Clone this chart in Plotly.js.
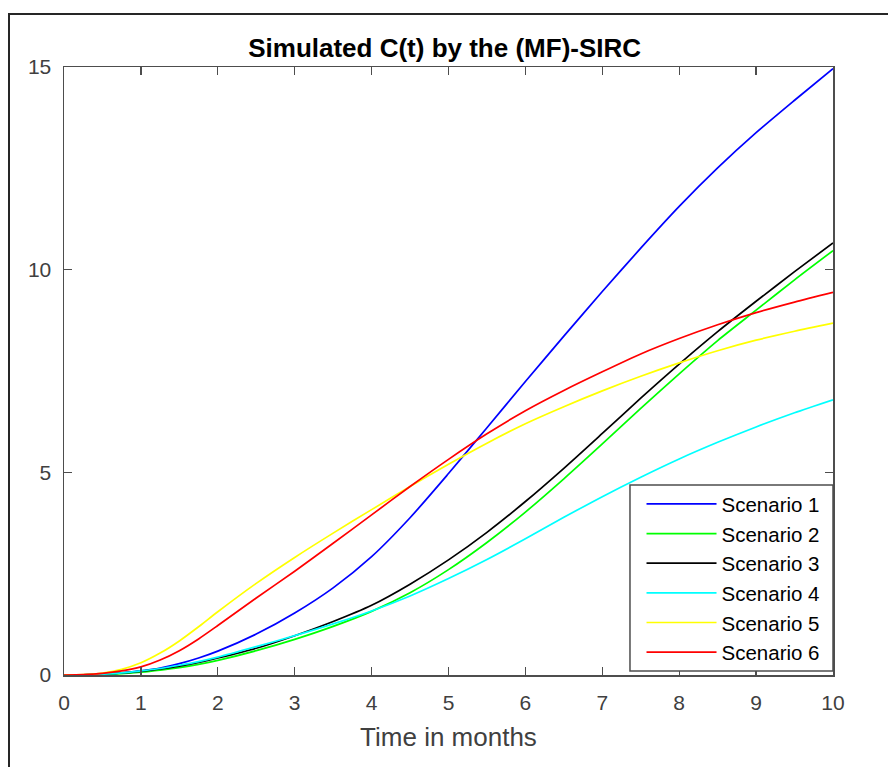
<!DOCTYPE html>
<html>
<head>
<meta charset="utf-8">
<script src="https://cdn.plot.ly/plotly-3.0.1.min.js"></script>
<style>
  html, body { margin: 0; padding: 0; background: #fff; }
  #chart { width: 888px; height: 767px; position: relative; }
  #frame {
    position: absolute; left: 8px; top: 13px; width: 900px; height: 800px;
    border-left: 2px solid #262626; border-top: 2px solid #262626;
    pointer-events: none; box-sizing: border-box;
  }
</style>
</head>
<body>
<div id="chart"></div>
<div id="frame"></div>
<script>
// Time axis (months): finer steps during the slow start
const months = [0, 0.25, 0.5, 0.75, 1, 1.25, 1.5, 1.75, 2, 2.5, 3, 3.5, 4, 4.5, 5, 5.5, 6, 6.5, 7, 7.5, 8, 8.5, 9, 9.5, 10];

// Cumulative C(t) for each scenario
const scenario1 = [0, 0.005, 0.02, 0.05, 0.10, 0.17, 0.28, 0.42, 0.59, 1.01, 1.53, 2.15, 2.92, 3.88, 4.97, 6.10, 7.24, 8.36, 9.46, 10.53, 11.56, 12.51, 13.38, 14.18, 14.96];
const scenario2 = [0, 0.003, 0.01, 0.035, 0.07, 0.12, 0.18, 0.26, 0.36, 0.60, 0.88, 1.20, 1.57, 2.03, 2.60, 3.27, 4.02, 4.84, 5.70, 6.58, 7.43, 8.25, 9.00, 9.75, 10.47];
const scenario3 = [0, 0.005, 0.02, 0.05, 0.09, 0.15, 0.22, 0.31, 0.42, 0.66, 0.97, 1.32, 1.72, 2.24, 2.84, 3.52, 4.28, 5.10, 5.96, 6.83, 7.67, 8.47, 9.22, 9.95, 10.66];
const scenario4 = [0, 0.005, 0.02, 0.05, 0.10, 0.16, 0.24, 0.33, 0.44, 0.70, 0.97, 1.26, 1.58, 1.95, 2.38, 2.85, 3.36, 3.89, 4.40, 4.88, 5.33, 5.74, 6.12, 6.47, 6.79];
const scenario5 = [0, 0.01, 0.05, 0.14, 0.30, 0.54, 0.84, 1.19, 1.56, 2.26, 2.90, 3.50, 4.08, 4.65, 5.20, 5.72, 6.20, 6.62, 7.01, 7.37, 7.70, 8.00, 8.26, 8.48, 8.68];
const scenario6 = [0, 0.01, 0.04, 0.10, 0.20, 0.37, 0.60, 0.89, 1.22, 1.90, 2.56, 3.25, 3.95, 4.65, 5.32, 5.95, 6.52, 7.02, 7.48, 7.92, 8.30, 8.64, 8.94, 9.20, 9.44];

const seriesNames = ['Scenario 1', 'Scenario 2', 'Scenario 3', 'Scenario 4', 'Scenario 5', 'Scenario 6'];
const seriesValues = [scenario1, scenario2, scenario3, scenario4, scenario5, scenario6];
const seriesColors = ['#0000ff', '#00ff00', '#000000', '#00ffff', '#ffff00', '#ff0000'];

const xTicks = [0, 1, 2, 3, 4, 5, 6, 7, 8, 9, 10];
const yTicks = [0, 5, 10, 15];

const traces = seriesValues.map((vals, i) => ({
  x: months,
  y: vals,
  name: seriesNames[i],
  type: 'scatter',
  mode: 'lines',
  line: { color: seriesColors[i], width: 1.7, shape: 'spline', smoothing: 0.7 }
}));

const FONT = 'Liberation Sans, Arial, sans-serif';

const axisCommon = {
  showgrid: false,
  zeroline: false,
  showline: true,
  linecolor: '#4d4d4d',
  linewidth: 1.5,
  mirror: 'ticks',
  ticks: 'inside',
  ticklen: 8,
  tickwidth: 1.2,
  tickcolor: '#4d4d4d',
  tickfont: { family: FONT, size: 21, color: '#404040' }
};

const layout = {
  width: 888,
  height: 767,
  margin: { l: 64, r: 55, t: 67, b: 92 },
  paper_bgcolor: '#ffffff',
  plot_bgcolor: '#ffffff',
  title: {
    text: '<b>Simulated C(t) by the (MF)-SIRC</b>',
    font: { family: FONT, size: 26, color: '#000000' },
    x: 0.495,
    xref: 'paper',
    xanchor: 'center',
    y: 1,
    yref: 'paper',
    yanchor: 'bottom',
    pad: { b: 10 }
  },
  xaxis: Object.assign({}, axisCommon, {
    range: [0, 10],
    tickvals: xTicks,
    ticktext: xTicks.map(String),
    ticklabelstandoff: 8,
    title: { text: 'Time in months', font: { family: FONT, size: 26, color: '#404040' }, standoff: 15 }
  }),
  yaxis: Object.assign({}, axisCommon, {
    range: [0, 15],
    tickvals: yTicks,
    ticktext: yTicks.map(String),
    ticklabelstandoff: 7
  }),
  // legend frame, drawn over the curves
  shapes: [{
    type: 'rect',
    xref: 'paper', yref: 'paper',
    x0: 0.736, x1: 1, y0: 0.0066, y1: 0.3125,
    fillcolor: '#ffffff',
    line: { color: '#4d4d4d', width: 1.5 },
    layer: 'above'
  }],
  showlegend: true,
  legend: {
    x: 0.751,
    xanchor: 'left',
    y: 0.314,
    yanchor: 'top',
    bgcolor: 'rgba(0,0,0,0)',
    borderwidth: 0,
    itemwidth: 70,
    font: { family: FONT, size: 20.5, color: '#000000' }
  }
};

Plotly.newPlot('chart', traces, layout, { displayModeBar: false, staticPlot: true });
</script>
</body>
</html>
